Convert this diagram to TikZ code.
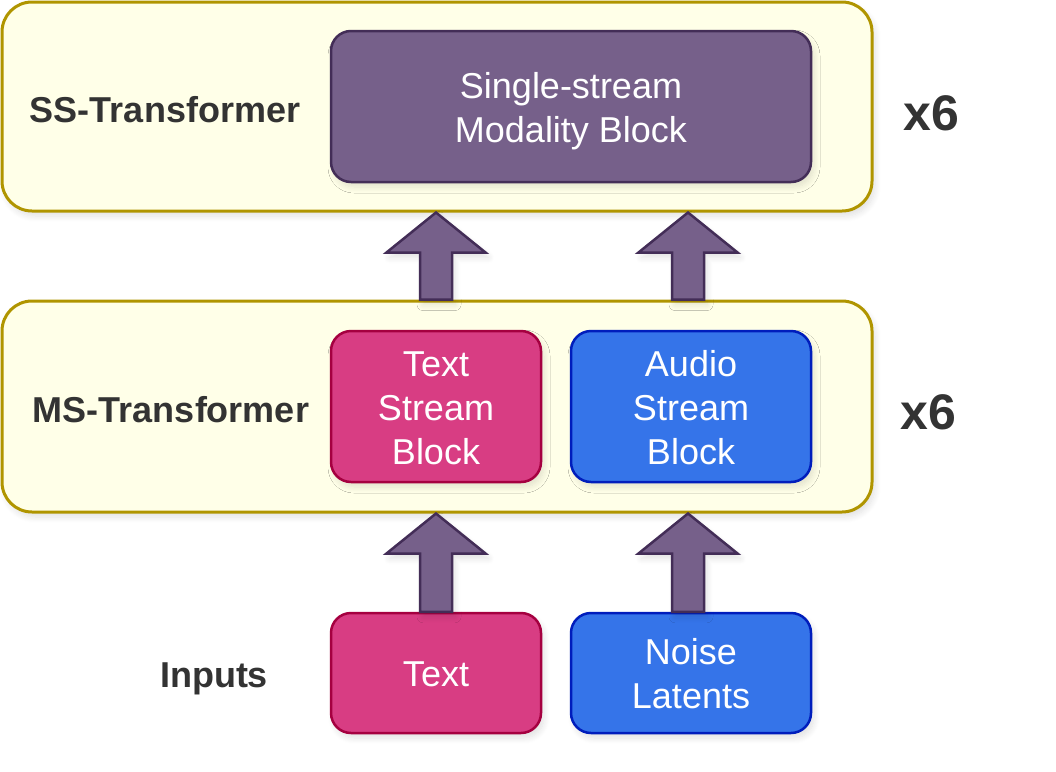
\documentclass[tikz,border=0pt]{standalone}
\usepackage{fontspec}
\setmainfont{Liberation Sans}
\usetikzlibrary{calc,shadows.blur}
\definecolor{contfill}{HTML}{FFFFE8}
\definecolor{contdraw}{HTML}{B09500}
\definecolor{purfill}{HTML}{76608A}
\definecolor{purdraw}{HTML}{432D57}
\definecolor{pinkfill}{HTML}{D83D83}
\definecolor{pinkdraw}{HTML}{A50040}
\definecolor{bluefill}{HTML}{3574E9}
\definecolor{bluedraw}{HTML}{001DBC}
\definecolor{labtext}{HTML}{333333}
\newcommand{\blklines}[1]{\raisebox{-5pt}[\height][\depth]{\begin{tabular}{@{}c@{}}#1\end{tabular}}}
\tikzset{
  shd/.style={blur shadow={shadow blur steps=8, shadow xshift=3pt, shadow yshift=-5pt, shadow opacity=12, shadow blur radius=6pt}},
  container/.style={draw=contdraw, fill=contfill, line width=3pt, rounded corners=30pt, inner sep=0pt, shd},
  blk/.style={line width=2.5pt, rounded corners=20pt, inner sep=0pt, text=white, font=\fontsize{36}{44}\selectfont, shd},
  purpleblk/.style={blk, draw=purdraw, fill=purfill},
  pinkblk/.style={blk, draw=pinkdraw, fill=pinkfill},
  blueblk/.style={blk, draw=bluedraw, fill=bluefill},
  lab/.style={text=labtext, font=\fontsize{36}{40}\selectfont\bfseries},
  xlab/.style={text=labtext, font=\fontsize{50}{54}\selectfont\bfseries},
  barrow/.style={draw=purdraw, fill=purfill, line width=2.5pt, line join=miter, shd}
}
\newcommand{\blockup}[2]{%
  \path[barrow] let \p1=(#1), \p2=(#2) in
    (\x1-16pt,\y1) -- (\x1-16pt,\y2-40pt) -- (\x1-49.5pt,\y2-40pt) -- (\x1,\y2)
    -- (\x1+49.5pt,\y2-40pt) -- (\x1+16pt,\y2-40pt) -- (\x1+16pt,\y1) -- cycle;}
\begin{document}
\begin{tikzpicture}[x=1pt,y=-1pt]
\useasboundingbox (0,0) rectangle (1056,771);
% containers
\node[container, minimum width=870, minimum height=209] (ss) at (437,106.5) {};
\node[container, minimum width=870, minimum height=211] (ms) at (437,406.5) {};
% blocks
\node[purpleblk, minimum width=480, minimum height=151] (sm) at (571,106.5) {\blklines{Single-stream\\Modality Block}};
\node[pinkblk, minimum width=210, minimum height=151] (tsb) at (436,406.5) {\blklines{Text\\Stream\\Block}};
\node[blueblk, minimum width=240, minimum height=151] (asb) at (691,406.5) {\blklines{Audio\\Stream\\Block}};
\node[pinkblk, minimum width=210, minimum height=120] (txt) at (436,673) {\blklines{Text}};
\node[blueblk, minimum width=240, minimum height=120] (nl) at (691,673) {\blklines{Noise\\Latents}};
% labels
\node[lab] (sslab) at (165,110) {SS-Transformer};
\node[lab] (mslab) at (171,410) {MS-Transformer};
\node[lab] (inlab) at (214,679) {Inputs};
\node[xlab] (x6a) at (931,113) {x6};
\node[xlab] (x6b) at (928,412) {x6};
% arrows
\coordinate (rcol) at (688,0);
\blockup{tsb.north |- ms.north}{tsb.north |- ss.south}
\blockup{rcol |- ms.north}{rcol |- ss.south}
\blockup{txt.north}{txt.north |- ms.south}
\blockup{nl.north -| rcol}{rcol |- ms.south}
\end{tikzpicture}
\end{document}
